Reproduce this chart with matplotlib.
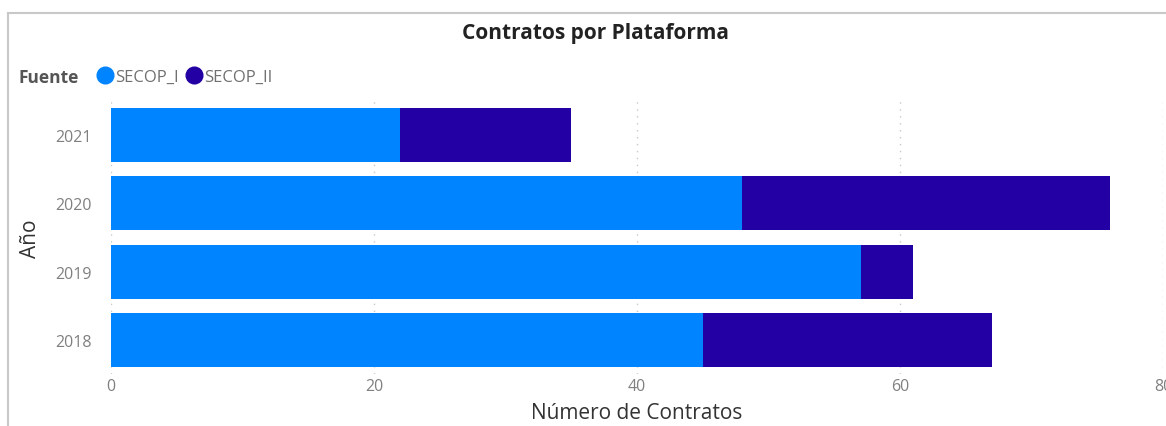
import numpy as np
import matplotlib.pyplot as plt
from matplotlib.lines import Line2D

# data
years = ["2018", "2019", "2020", "2021"]
secop_i = [45, 57, 48, 22]
secop_ii = [22, 4, 28, 13]
x_ticks = [0, 20, 40, 60, 80]

col_i = "#0084FF"
col_ii = "#2300A3"

plt.rcParams['font.family'] = ['Open Sans', 'DejaVu Sans']

W, H = 1166, 427
fig = plt.figure(figsize=(W / 100, H / 100), dpi=100)
ax = fig.add_axes([111 / W, 1 - 375 / H, (1163 - 111) / W, (375 - 102) / H])

y = np.arange(len(years))
ax.barh(y, secop_i, height=0.79, color=col_i, label="SECOP_I", zorder=3)
ax.barh(y, secop_ii, left=secop_i, height=0.79, color=col_ii, label="SECOP_II", zorder=3)

ax.set_xlim(0, 80)
ax.set_ylim(-0.5, len(years) - 0.5)
ax.set_yticks(y)
ax.set_yticklabels(years)
ax.set_xticks(x_ticks)
ax.tick_params(axis='both', length=0, labelsize=11.5, labelcolor="#808080")
ax.tick_params(axis='y', pad=14)
ax.tick_params(axis='x', pad=3)
for s in ax.spines.values():
    s.set_visible(False)
ax.grid(axis='x', linestyle=(0, (1, 4)), color="#c8c8c8", linewidth=1, zorder=0)

ax.set_xlabel("Número de Contratos", fontsize=15, color="#333333", labelpad=6)
ax.set_ylabel("Año", fontsize=15, color="#333333", labelpad=10)

fig.text(595 / W, 1 - 33 / H, "Contratos por Plataforma", ha='center', va='center',
         fontsize=15, fontweight='bold', color="#222222")

# legend row
fig.text(18 / W, 1 - 78 / H, "Fuente", ha='left', va='center', fontsize=12.5,
         fontweight='bold', color="#555555")
handles = [Line2D([], [], marker='o', linestyle='', markersize=12, color=col_i),
           Line2D([], [], marker='o', linestyle='', markersize=12, color=col_ii)]
fig.legend(handles, ["SECOP_I", "SECOP_II"], loc='center left',
           bbox_to_anchor=(82 / W, 1 - 78 / H), ncol=2, frameon=False,
           handletextpad=0.1, columnspacing=0.4, handlelength=1.0,
           prop={'size': 12}, labelcolor="#707070")

# visual border
fig.add_artist(Line2D([8 / W, 8 / W], [0, 1 - 14 / H], transform=fig.transFigure,
                      color="#c8c8c8", linewidth=1.5))
fig.add_artist(Line2D([8 / W, 1], [1 - 14 / H, 1 - 14 / H], transform=fig.transFigure,
                      color="#c8c8c8", linewidth=1.5))

fig.savefig("out.png", dpi=100)
